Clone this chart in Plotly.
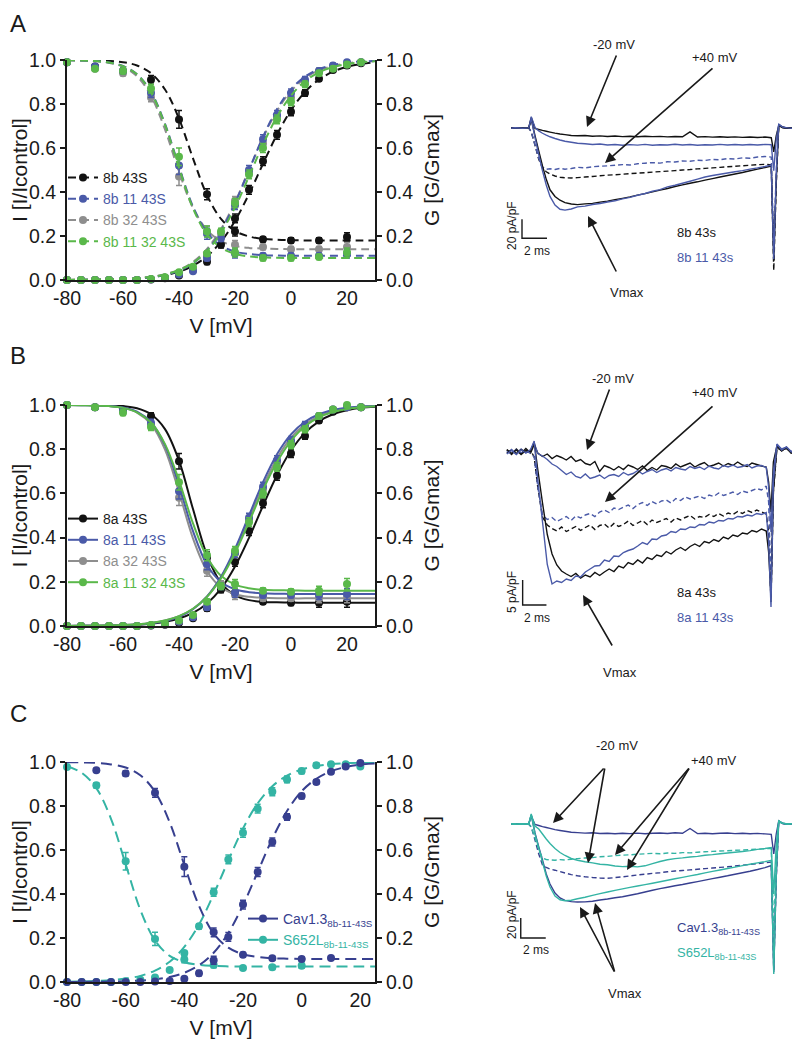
import plotly.graph_objects as go

# page body has an 8px margin: the figure is drawn 8px in, so coordinates below are page pixels
OFF = 8
FW, FH = 792, 1038
FONT = "Liberation Sans, Arial, sans-serif"
INK = "#1a1a1a"
BLACK = "#121212"
BLUE = "#4a5aa8"
GRAY = "#8e8e8e"
GREEN = "#5ab84a"
NAVY = "#373f8f"
TEAL = "#34b4a4"

# ---------------- steady-state curves: voltages ----------------
v_inact = [-80, -70, -60, -50, -40, -30, -20, -10, 0, 10, 20]
v_act = [-80, -75, -70, -65, -60, -55, -50, -45, -40, -35, -30, -25, -20, -15, -10, -5, 0, 5, 10, 15, 20, 25]
v_fit = [-80, -75, -70, -65, -60, -55, -50, -45, -40, -35, -30, -25, -20, -15, -10, -5, 0, 5, 10, 15, 20, 25, 30]

# ---------------- panel A (8b splice variants) ----------------
a_inact_blk = [0.99, 0.97, 0.95, 0.91, 0.73, 0.39, 0.22, 0.185, 0.18, 0.18, 0.195]
a_inact_blu = [0.99, 0.97, 0.95, 0.85, 0.52, 0.21, 0.12, 0.11, 0.11, 0.11, 0.12]
a_inact_gry = [0.99, 0.96, 0.94, 0.83, 0.47, 0.22, 0.16, 0.15, 0.14, 0.14, 0.15]
a_inact_grn = [0.99, 0.96, 0.95, 0.87, 0.56, 0.22, 0.125, 0.10, 0.10, 0.105, 0.125]
a_inact_err = [0.005, 0.01, 0.012, 0.02, 0.04, 0.025, 0.02, 0.012, 0.012, 0.012, 0.02]

a_act_blk = [0, 0, 0, 0, 0, 0, 0.002, 0.008, 0.02, 0.045, 0.083, 0.16, 0.28, 0.41, 0.54, 0.66, 0.765, 0.85, 0.915, 0.955, 0.975, 0.985]
a_act_blu = [0, 0, 0, 0, 0, 0, 0.003, 0.01, 0.025, 0.04, 0.10, 0.19, 0.34, 0.50, 0.64, 0.75, 0.85, 0.91, 0.95, 0.975, 0.99, 0.99]
a_act_gry = [0, 0, 0, 0, 0, 0, 0.003, 0.01, 0.03, 0.05, 0.11, 0.21, 0.36, 0.49, 0.62, 0.74, 0.83, 0.90, 0.95, 0.97, 0.98, 0.99]
a_act_grn = [0, 0, 0, 0, 0, 0, 0.005, 0.012, 0.035, 0.06, 0.12, 0.22, 0.35, 0.48, 0.60, 0.73, 0.81, 0.89, 0.94, 0.96, 0.98, 0.99]
act_err = [0, 0, 0, 0, 0, 0, 0.002, 0.003, 0.005, 0.008, 0.012, 0.015, 0.02, 0.02, 0.02, 0.02, 0.018, 0.015, 0.012, 0.01, 0.01, 0.008]

a_fit_inact_blk = [1.0, 0.999, 0.998, 0.996, 0.990, 0.975, 0.940, 0.866, 0.733, 0.553, 0.386, 0.278, 0.223, 0.198, 0.187, 0.183, 0.181, 0.180, 0.180, 0.180, 0.180, 0.180, 0.180]
a_fit_inact_blu = [0.999, 0.998, 0.995, 0.989, 0.973, 0.935, 0.855, 0.710, 0.515, 0.334, 0.216, 0.156, 0.129, 0.118, 0.113, 0.111, 0.110, 0.110, 0.110, 0.110, 0.110, 0.110, 0.110]
a_fit_inact_gry = [0.999, 0.998, 0.995, 0.987, 0.969, 0.926, 0.837, 0.684, 0.492, 0.328, 0.227, 0.177, 0.155, 0.146, 0.143, 0.141, 0.140, 0.140, 0.140, 0.140, 0.140, 0.140, 0.140]
a_fit_inact_grn = [0.999, 0.998, 0.995, 0.989, 0.972, 0.935, 0.852, 0.706, 0.510, 0.326, 0.207, 0.147, 0.119, 0.107, 0.103, 0.101, 0.100, 0.100, 0.100, 0.100, 0.100, 0.100, 0.100]
a_fit_act_blk = [0.0005, 0.0008, 0.0014, 0.0025, 0.0043, 0.0075, 0.013, 0.022, 0.038, 0.065, 0.108, 0.174, 0.269, 0.391, 0.528, 0.661, 0.772, 0.855, 0.911, 0.947, 0.969, 0.982, 0.990]
a_fit_act_blu = [0.0003, 0.0006, 0.001, 0.0019, 0.0036, 0.0067, 0.0124, 0.023, 0.042, 0.076, 0.133, 0.223, 0.349, 0.5, 0.651, 0.777, 0.867, 0.924, 0.958, 0.977, 0.988, 0.993, 0.996]
a_fit_act_gry = [0.0004, 0.0007, 0.0013, 0.0024, 0.0044, 0.008, 0.0145, 0.026, 0.047, 0.082, 0.141, 0.231, 0.354, 0.5, 0.646, 0.769, 0.859, 0.917, 0.953, 0.973, 0.985, 0.992, 0.995]
a_fit_act_grn = [0.0004, 0.0008, 0.0014, 0.0025, 0.0045, 0.008, 0.014, 0.025, 0.045, 0.078, 0.132, 0.215, 0.330, 0.471, 0.616, 0.742, 0.838, 0.904, 0.944, 0.968, 0.982, 0.990, 0.994]

# ---------------- panel B (8a splice variants) ----------------
b_inact_blk = [1.0, 0.99, 0.98, 0.95, 0.745, 0.31, 0.15, 0.11, 0.105, 0.105, 0.11]
b_inact_blu = [1.0, 0.99, 0.975, 0.92, 0.61, 0.28, 0.15, 0.14, 0.14, 0.14, 0.145]
b_inact_gry = [1.0, 0.99, 0.97, 0.91, 0.58, 0.25, 0.14, 0.125, 0.125, 0.125, 0.13]
b_inact_grn = [1.0, 0.99, 0.965, 0.90, 0.65, 0.32, 0.19, 0.16, 0.155, 0.16, 0.19]
b_inact_err = [0.005, 0.01, 0.012, 0.015, 0.035, 0.025, 0.02, 0.012, 0.012, 0.02, 0.025]

b_act_blk = [0, 0, 0, 0, 0, 0, 0.002, 0.006, 0.015, 0.035, 0.08, 0.165, 0.29, 0.43, 0.555, 0.68, 0.78, 0.86, 0.93, 0.97, 0.99, 0.99]
b_act_blu = [0, 0, 0, 0, 0, 0, 0.003, 0.008, 0.02, 0.04, 0.085, 0.18, 0.33, 0.49, 0.63, 0.75, 0.84, 0.91, 0.95, 0.98, 0.99, 0.99]
b_act_gry = [0, 0, 0, 0, 0, 0, 0.003, 0.008, 0.02, 0.045, 0.09, 0.19, 0.33, 0.48, 0.62, 0.74, 0.83, 0.90, 0.95, 0.98, 0.99, 0.99]
b_act_grn = [0, 0, 0, 0, 0, 0, 0.005, 0.01, 0.025, 0.05, 0.11, 0.18, 0.34, 0.47, 0.60, 0.72, 0.82, 0.89, 0.95, 0.98, 1.0, 0.99]

b_fit_inact_blk = [1.0, 1.0, 0.999, 0.998, 0.995, 0.985, 0.958, 0.891, 0.748, 0.529, 0.321, 0.195, 0.139, 0.117, 0.109, 0.107, 0.106, 0.105, 0.105, 0.105, 0.105, 0.105, 0.105]
b_fit_inact_blu = [1.0, 0.999, 0.998, 0.996, 0.988, 0.970, 0.922, 0.817, 0.636, 0.429, 0.277, 0.199, 0.166, 0.153, 0.148, 0.146, 0.145, 0.145, 0.145, 0.145, 0.145, 0.145, 0.145]
b_fit_inact_gry = [1.0, 0.999, 0.998, 0.995, 0.987, 0.966, 0.913, 0.798, 0.606, 0.396, 0.249, 0.175, 0.144, 0.132, 0.128, 0.126, 0.125, 0.125, 0.125, 0.125, 0.125, 0.125, 0.125]
b_fit_inact_grn = [1.0, 0.999, 0.998, 0.995, 0.987, 0.967, 0.921, 0.823, 0.658, 0.464, 0.312, 0.227, 0.187, 0.171, 0.164, 0.162, 0.161, 0.160, 0.160, 0.160, 0.160, 0.160, 0.160]
b_fit_act_blk = [0.0003, 0.0006, 0.001, 0.0019, 0.0033, 0.006, 0.0107, 0.019, 0.034, 0.059, 0.102, 0.169, 0.269, 0.399, 0.544, 0.682, 0.794, 0.874, 0.926, 0.958, 0.976, 0.987, 0.992]
b_fit_act_blu = [0.0003, 0.0006, 0.001, 0.0019, 0.0036, 0.0067, 0.0124, 0.023, 0.042, 0.076, 0.133, 0.223, 0.349, 0.5, 0.651, 0.777, 0.867, 0.924, 0.958, 0.977, 0.988, 0.993, 0.996]
b_fit_act_gry = [0.0004, 0.0007, 0.0012, 0.0023, 0.0042, 0.0075, 0.0137, 0.025, 0.044, 0.078, 0.134, 0.220, 0.340, 0.485, 0.632, 0.758, 0.852, 0.913, 0.950, 0.972, 0.985, 0.992, 0.995]
b_fit_act_grn = [0.0004, 0.0008, 0.0014, 0.0025, 0.0045, 0.008, 0.014, 0.025, 0.045, 0.078, 0.132, 0.215, 0.330, 0.471, 0.616, 0.742, 0.838, 0.904, 0.944, 0.968, 0.982, 0.990, 0.994]

# ---------------- panel C (Cav1.3 vs S652L) ----------------
v_c_cav_inact = [-70, -60, -50, -40, -30, -20, -10, 0, 10]
c_inact_cav = [0.962, 0.948, 0.86, 0.524, 0.226, 0.124, 0.108, 0.105, 0.109]
c_inact_cav_err = [0.008, 0.012, 0.02, 0.045, 0.02, 0.01, 0.008, 0.008, 0.008]
v_c_s652_inact = [-80, -70, -60, -50, -40, -30, -20, -10, 0]
c_inact_s652 = [0.977, 0.894, 0.549, 0.196, 0.102, 0.077, 0.064, 0.067, 0.074]
c_inact_s652_err = [0.01, 0.012, 0.04, 0.03, 0.015, 0.012, 0.01, 0.01, 0.012]
v_c_act = [-80, -75, -70, -65, -60, -55, -50, -45, -40, -35, -30, -25, -20, -15, -10, -5, 0, 5, 10, 15, 20]
c_act_cav = [0, 0, 0, 0, 0, 0, 0.002, 0.005, 0.015, 0.04, 0.099, 0.205, 0.352, 0.50, 0.636, 0.75, 0.845, 0.909, 0.956, 0.98, 0.995]
c_act_s652 = [0, 0, 0, 0, 0.003, 0.01, 0.02, 0.055, 0.132, 0.253, 0.408, 0.557, 0.678, 0.788, 0.865, 0.921, 0.959, 0.985, 0.99, 0.99, 0.98]
c_act_err = [0, 0, 0, 0, 0, 0.002, 0.003, 0.005, 0.008, 0.012, 0.018, 0.02, 0.02, 0.02, 0.018, 0.015, 0.012, 0.01, 0.008, 0.008, 0.008]
v_fit_c = [-80, -75, -70, -65, -60, -55, -50, -45, -40, -35, -30, -25, -20, -15, -10, -5, 0, 5, 10, 15, 20, 25]
c_fit_inact_cav = [0.999, 0.998, 0.996, 0.989, 0.975, 0.940, 0.865, 0.726, 0.532, 0.346, 0.220, 0.156, 0.126, 0.114, 0.108, 0.106, 0.105, 0.105, 0.105, 0.105, 0.105, 0.105]
c_fit_inact_s652 = [0.981, 0.951, 0.881, 0.742, 0.535, 0.328, 0.189, 0.119, 0.090, 0.078, 0.073, 0.071, 0.070, 0.070, 0.070, 0.070, 0.070, 0.070, 0.070, 0.070, 0.070, 0.070]
c_fit_act_cav = [0.0003, 0.0006, 0.001, 0.0019, 0.0036, 0.0067, 0.0124, 0.023, 0.042, 0.076, 0.133, 0.223, 0.349, 0.5, 0.651, 0.777, 0.867, 0.924, 0.958, 0.977, 0.988, 0.993]
c_fit_act_s652 = [0.0013, 0.0024, 0.0045, 0.0083, 0.0154, 0.028, 0.052, 0.092, 0.160, 0.261, 0.399, 0.552, 0.698, 0.812, 0.890, 0.938, 0.966, 0.981, 0.990, 0.995, 0.997, 0.998]

# ---------------- current traces (t in ms, I in pA/pF) ----------------
t_a = [-1.5, -1.2, -0.6, -0.1, 0.1, 0.4, 0.7, 1.0,
       1.3, 1.6, 2.0, 2.4, 2.8, 3.3, 3.8, 4.4,
       5.0, 5.6, 6.2, 6.8, 7.4, 8.0, 8.6, 9.2,
       9.8, 10.4, 11.0, 11.6, 12.2, 12.8, 13.4, 14.0,
       14.6, 15.2, 15.8, 16.4, 17.0, 17.6, 18.2, 18.8,
       19.3, 19.5, 19.7, 19.9, 20.2, 20.6, 21.0, 21.4]
i_a_blk_m20 = [-0.3, 0.4, -0.2, 0.3, 11.0, -0.5, -1.5, -2.5,
               -3.4, -4.3, -5.4, -6.3, -7.0, -7.9, -8.2, -7.8,
               -8.6, -8.3, -8.9, -8.4, -9.0, -8.7, -9.2, -8.6,
               -9.1, -8.8, -9.3, -8.9, -9.2, -4.0, -9.4, -9.0,
               -9.6, -9.2, -9.7, -9.3, -9.8, -9.4, -9.9, -9.5,
               -10.2, -25.0, -8.0, 2.5, 0.5, -0.3, 0.3, -0.1]
i_a_blu_m20 = [0.2, -0.3, 0.4, -0.2, 12.0, 0.5, -3.0, -5.5,
               -7.5, -9.2, -11.0, -12.6, -13.9, -15.0, -16.0, -16.6,
               -17.4, -16.8, -17.9, -17.3, -18.2, -17.5, -18.0, -17.2,
               -18.1, -17.6, -17.9, -17.1, -17.8, -17.4, -18.2, -17.6,
               -17.9, -17.2, -17.8, -17.3, -17.9, -17.4, -17.8, -17.2,
               -17.6, -45.0, -12.0, 4.0, 1.2, 0.2, -0.2, 0.3]
i_a_blu_p40 = [0.0, 0.2, -0.2, 0.1, -4.0, -18.0, -32.0, -41.0,
               -43.5, -42.8, -43.6, -42.5, -43.3, -42.6, -41.4, -42.0,
               -40.8, -40.2, -39.8, -39.2, -38.5, -38.9, -37.6, -37.0,
               -36.4, -36.9, -35.5, -35.8, -34.6, -35.0, -33.9, -34.2,
               -33.0, -33.4, -32.2, -32.6, -31.4, -31.8, -30.5, -30.0,
               -30.6, -125.0, -45.0, 2.0, 0.8, 0.0, 0.2, 0.0]
i_a_blk_p40 = [0.1, -0.2, 0.2, 0.0, -4.0, -18.0, -33.0, -42.0,
               -46.0, -48.5, -50.5, -51.8, -52.4, -52.6, -52.2, -51.6,
               -51.0, -50.3, -49.6, -49.2, -48.6, -48.0, -47.5, -47.1,
               -46.4, -45.9, -45.4, -44.8, -44.1, -43.7, -43.0, -42.5,
               -41.9, -41.4, -40.8, -40.3, -39.7, -39.2, -38.6, -38.2,
               -38.8, -150.0, -60.0, 1.0, 0.6, 0.0, 0.1, 0.0]
i_a_blk_vmax = [0.3, -0.3, 0.2, -0.1, 9.0, -8.0, -24.0, -40.0,
                -54.0, -65.0, -72.0, -76.0, -78.5, -80.0, -80.6, -79.8,
                -79.3, -78.0, -76.9, -75.4, -74.0, -72.5, -70.6, -69.0,
                -67.2, -65.4, -63.6, -61.5, -59.8, -58.1, -56.6, -54.8,
                -53.2, -51.5, -50.0, -48.4, -46.8, -45.0, -43.2, -41.5,
                -40.0, -140.0, -55.0, 3.0, 0.8, -0.2, 0.3, 0.0]
i_a_blu_vmax = [-0.2, 0.3, -0.3, 0.2, 10.0, -10.0, -28.0, -45.0,
                -60.0, -72.0, -81.0, -85.5, -86.4, -85.2, -83.0, -82.2,
                -80.5, -79.4, -77.8, -76.6, -74.5, -73.0, -70.8, -68.9,
                -66.5, -64.8, -62.0, -60.2, -58.1, -56.0, -53.8, -51.6,
                -50.0, -48.6, -47.3, -46.0, -44.8, -43.3, -42.0, -40.5,
                -39.0, -138.0, -48.0, 4.0, 1.0, 0.2, -0.2, 0.3]

t_b = [-2.2, -1.8, -1.4, -1.0, -0.6, -0.2, 0.1, 0.4,
       0.8, 1.2, 1.6, 2.0, 2.4, 2.8, 3.2, 3.6,
       4.0, 4.4, 4.8, 5.2, 5.6, 6.0, 6.4, 6.8,
       7.2, 7.6, 8.0, 8.4, 8.8, 9.2, 9.6, 10.0,
       10.4, 10.8, 11.2, 11.6, 12.0, 12.4, 12.8, 13.2,
       13.6, 14.0, 14.4, 14.8, 15.2, 15.6, 16.0, 16.4,
       16.8, 17.2, 17.6, 18.0, 18.4, 18.8, 19.2, 19.6,
       19.8, 20.0, 20.2, 20.5, 20.9, 21.3, 21.7, 22.1]
i_b_blk_m20 = [0.4, -0.5, 0.6, -0.3, 0.7, -0.2, 1.5, -0.2,
               -0.9, -0.4, -1.3, -0.7, -1.1, -1.6, -0.9, -1.9,
               -1.5, -2.3, -2.6, -1.9, -3.9, -2.7, -3.1, -3.6,
               -2.9, -3.5, -2.6, -3.0, -3.5, -2.8, -3.7, -3.1,
               -3.6, -2.7, -2.9, -3.3, -2.4, -3.0, -2.6, -2.2,
               -3.0, -2.5, -2.1, -2.9, -2.6, -2.2, -2.8, -2.3,
               -2.7, -2.0, -2.6, -2.9, -2.2, -2.5, -2.8, -3.0,
               -6.0, -12.0, -2.0, 1.2, 0.3, 0.8, -0.2, 0.5]
i_b_blu_m20 = [-0.3, 0.5, -0.4, 0.6, -0.2, 0.4, 1.8, -0.3,
               -0.8, -1.5, -2.4, -2.9, -3.7, -4.5, -4.0, -4.9,
               -5.2, -4.4, -5.3, -5.0, -4.6, -5.3, -4.7, -4.5,
               -4.9, -4.1, -4.6, -4.3, -3.7, -4.4, -3.9, -3.5,
               -4.1, -3.6, -3.3, -3.8, -3.1, -3.4, -3.6, -2.9,
               -3.3, -3.0, -3.5, -2.8, -3.2, -3.4, -2.7, -3.0,
               -2.6, -3.1, -2.9, -2.5, -3.2, -2.8, -2.7, -3.1,
               -7.0, -16.0, -4.0, 1.5, 0.6, 1.0, 0.1, 0.6]
i_b_blu_p40 = [0.2, -0.4, 0.5, -0.2, 0.3, -0.3, -1.0, -7.0,
               -12.6, -13.5, -13.1, -13.9, -13.4, -12.9, -13.7, -12.8,
               -13.2, -12.6, -12.3, -12.9, -12.0, -11.6, -12.1, -11.2,
               -11.5, -11.0, -10.6, -11.3, -10.5, -10.1, -10.7, -9.9,
               -10.4, -9.8, -9.6, -10.2, -9.3, -9.7, -9.0, -9.4,
               -9.1, -8.8, -9.3, -8.6, -8.9, -8.2, -8.7, -8.4,
               -8.0, -8.5, -7.8, -8.1, -7.7, -7.3, -7.6, -6.8,
               -10.0, -26.0, -5.0, 1.0, 0.4, 0.8, 0.0, 0.4]
i_b_blk_p40 = [-0.2, 0.4, -0.3, 0.5, -0.1, 0.3, -1.0, -7.0,
               -13.0, -14.6, -15.3, -15.8, -15.0, -15.9, -15.4, -14.9,
               -15.7, -15.1, -14.6, -15.5, -14.7, -14.4, -15.2, -14.3,
               -14.9, -14.5, -13.8, -14.7, -14.2, -13.7, -14.5, -13.6,
               -14.1, -13.7, -13.3, -14.0, -13.2, -13.6, -13.1, -12.7,
               -13.4, -12.9, -13.1, -12.5, -12.9, -12.3, -12.8, -12.2,
               -12.5, -11.9, -12.3, -11.7, -12.1, -11.6, -12.0, -12.4,
               -16.0, -30.0, -8.0, 0.8, 0.3, 0.7, -0.1, 0.3]
i_b_blk_vmax = [0.5, -0.3, 0.4, -0.5, 0.3, 0.1, 2.0, -3.5,
                -10.2, -16.5, -20.4, -22.6, -23.8, -24.4, -24.9, -24.3,
                -25.2, -24.6, -25.0, -24.1, -24.7, -24.0, -23.4, -23.9,
                -22.8, -23.2, -22.1, -22.5, -21.6, -22.2, -21.1, -21.5,
                -20.6, -20.9, -19.9, -20.4, -19.6, -19.1, -19.7, -18.9,
                -18.4, -18.9, -17.9, -18.2, -17.5, -17.9, -17.0, -17.4,
                -16.6, -16.9, -16.2, -16.4, -15.7, -16.0, -15.4, -15.8,
                -20.0, -29.0, -8.0, 1.2, 0.2, 0.9, -0.2, 0.4]
i_b_blu_vmax = [-0.4, 0.3, -0.5, 0.4, -0.2, 0.5, 2.2, -5.5,
                -14.0, -22.5, -26.4, -25.8, -26.1, -25.4, -25.7, -24.8,
                -25.0, -24.0, -23.4, -22.8, -22.7, -21.6, -21.9, -20.8,
                -20.9, -20.1, -19.7, -19.4, -18.8, -18.1, -18.5, -17.4,
                -17.5, -16.8, -16.6, -15.9, -16.1, -15.4, -15.5, -15.0,
                -15.1, -14.5, -14.6, -14.0, -14.2, -13.7, -13.8, -13.3,
                -13.4, -12.9, -13.0, -12.6, -12.8, -12.3, -12.5, -12.1,
                -18.0, -31.0, -6.0, 1.6, 0.4, 1.0, 0.0, 0.5]

t_c = [-1.5, -1.2, -0.6, -0.1, 0.1, 0.4, 0.7, 1.0,
       1.3, 1.6, 2.0, 2.4, 2.8, 3.3, 3.8, 4.4,
       5.0, 5.6, 6.2, 6.8, 7.4, 8.0, 8.6, 9.2,
       9.8, 10.4, 11.0, 11.6, 12.2, 12.8, 13.4, 14.0,
       14.6, 15.2, 15.8, 16.4, 17.0, 17.6, 18.2, 18.8,
       19.3, 19.5, 19.7, 19.9, 20.2, 20.6, 21.0, 21.4]
i_c_cav_m20 = [0.2, -0.3, 0.4, 0.0, 8.0, -0.5, -1.5, -2.6,
               -3.5, -4.4, -5.6, -6.5, -7.3, -8.2, -8.6, -9.1,
               -8.8, -9.5, -9.2, -9.8, -9.3, -9.6, -9.1, -9.7,
               -9.2, -9.0, -9.5, -8.8, -9.3, -4.5, -9.6, -9.2,
               -9.8, -9.3, -9.0, -9.6, -9.2, -9.8, -9.4, -9.9,
               -10.3, -30.0, -10.0, 3.0, 0.6, -0.2, 0.3, 0.0]
i_c_s652_m20 = [0.3, -0.2, 0.2, 0.0, 9.0, -2.0, -5.0, -10.0,
                -15.0, -19.5, -24.5, -28.5, -31.5, -34.5, -36.2, -37.8,
                -38.9, -40.2, -40.8, -42.0, -42.6, -42.2, -42.9, -41.8,
                -39.6, -37.5, -35.8, -34.6, -33.9, -33.0, -32.4, -31.2,
                -30.6, -29.8, -29.0, -28.3, -27.5, -26.6, -25.4, -24.5,
                -23.6, -70.0, -20.0, 3.0, 0.7, 0.0, 0.2, 0.0]
i_c_s652_p40 = [0.0, 0.2, -0.2, 0.0, -3.0, -14.0, -26.0, -34.0,
                -35.5, -35.8, -36.2, -35.6, -36.0, -35.2, -34.6, -34.0,
                -33.6, -32.8, -32.4, -31.6, -31.2, -30.8, -30.2, -29.8,
                -29.4, -29.8, -29.0, -29.4, -28.6, -28.9, -28.2, -27.8,
                -27.4, -27.0, -26.8, -26.3, -26.0, -25.6, -25.2, -24.8,
                -24.4, -110.0, -35.0, 2.0, 0.5, 0.0, 0.1, 0.0]
i_c_cav_p40 = [-0.1, 0.2, 0.0, -0.2, -3.0, -16.0, -30.0, -41.0,
               -43.5, -45.0, -46.2, -47.6, -49.0, -50.6, -51.8, -52.8,
               -53.5, -54.0, -54.3, -53.6, -52.8, -51.9, -51.0, -50.2,
               -49.4, -48.7, -47.8, -47.0, -46.5, -45.9, -45.3, -44.6,
               -44.0, -43.4, -42.8, -42.0, -41.2, -40.4, -39.6, -38.8,
               -38.0, -146.0, -55.0, 2.0, 0.5, 0.0, 0.1, 0.0]
i_c_s652_vmax = [0.2, -0.2, 0.3, 0.0, 10.0, -10.0, -24.0, -38.0,
                 -52.0, -63.0, -72.0, -75.8, -76.8, -76.2, -74.8, -73.2,
                 -71.4, -69.6, -68.0, -66.4, -64.9, -63.4, -62.0, -60.6,
                 -59.2, -57.8, -56.3, -54.8, -53.4, -51.9, -50.5, -48.9,
                 -47.4, -46.0, -44.5, -43.1, -41.6, -40.2, -38.9, -37.6,
                 -36.3, -150.0, -50.0, 3.0, 0.8, 0.0, 0.2, 0.0]
i_c_cav_vmax = [-0.2, 0.3, -0.2, 0.1, 9.0, -9.0, -23.0, -36.0,
                -50.0, -60.0, -69.0, -74.0, -76.4, -77.6, -78.0, -77.9,
                -77.2, -76.0, -75.0, -73.8, -72.8, -71.3, -69.8, -68.0,
                -66.2, -64.6, -63.2, -61.8, -60.5, -59.0, -57.6, -56.1,
                -54.6, -53.2, -51.8, -50.2, -48.7, -47.2, -45.5, -43.6,
                -41.5, -148.0, -52.0, 3.0, 0.7, -0.1, 0.2, 0.0]

# scale bars (2 ms horizontal; 20 / 5 / 20 pA/pF vertical)
sb_a_t = [-0.64, -0.64, 1.36]
sb_a_i = [-96, -116, -116]
sb_b_t = [-0.87, -0.87, 1.13]
sb_b_i = [-25.6, -30.6, -30.6]
sb_c_t = [-0.74, -0.74, 1.26]
sb_c_i = [-94, -114, -114]


def fx(x):
    return (x - OFF) / FW


def fy(y):
    return 1 - (y - OFF) / FH


fig = go.Figure()


def points(x, y, err, color, xa, ya):
    fig.add_trace(go.Scatter(x=x, y=y, mode="markers", xaxis=xa, yaxis=ya,
                             marker=dict(color=color, size=8),
                             error_y=dict(type="data", array=err, color=color, thickness=1.5, width=3),
                             cliponaxis=False, showlegend=False, hoverinfo="skip"))


def curve(x, y, color, dash, xa, ya):
    fig.add_trace(go.Scatter(x=x, y=y, mode="lines", xaxis=xa, yaxis=ya,
                             line=dict(color=color, width=2, dash=dash, shape="spline"),
                             showlegend=False, hoverinfo="skip"))


def key(name, color, dash, legend):
    fig.add_trace(go.Scatter(x=[None], y=[None], mode="lines+markers", name=name,
                             line=dict(color=color, width=2, dash=dash),
                             marker=dict(color=color, size=8),
                             legend=legend, legendgroup=name))


def trace(t, i, color, dash, xa, ya):
    fig.add_trace(go.Scatter(x=t, y=i, mode="lines", xaxis=xa, yaxis=ya,
                             line=dict(color=color, width=1.4, dash=dash, simplify=False),
                             cliponaxis=False, showlegend=False, hoverinfo="skip"))


def colored(text, color):
    return '<span style="color:%s">%s</span>' % (color, text)


# ---- panel A steady-state ----
DA = "8px,5px"
for fit_i, fit_g, d_i, d_g, col in [
    (a_fit_inact_blk, a_fit_act_blk, a_inact_blk, a_act_blk, BLACK),
    (a_fit_inact_gry, a_fit_act_gry, a_inact_gry, a_act_gry, GRAY),
    (a_fit_inact_blu, a_fit_act_blu, a_inact_blu, a_act_blu, BLUE),
    (a_fit_inact_grn, a_fit_act_grn, a_inact_grn, a_act_grn, GREEN),
]:
    curve(v_fit, fit_i, col, DA, "x", "y")
    curve(v_fit, fit_g, col, DA, "x", "y2")
    points(v_inact, d_i, a_inact_err, col, "x", "y")
    points(v_act, d_g, act_err, col, "x", "y2")

# ---- panel B steady-state ----
for fit_i, fit_g, d_i, d_g, col in [
    (b_fit_inact_blk, b_fit_act_blk, b_inact_blk, b_act_blk, BLACK),
    (b_fit_inact_gry, b_fit_act_gry, b_inact_gry, b_act_gry, GRAY),
    (b_fit_inact_blu, b_fit_act_blu, b_inact_blu, b_act_blu, BLUE),
    (b_fit_inact_grn, b_fit_act_grn, b_inact_grn, b_act_grn, GREEN),
]:
    curve(v_fit, fit_i, col, "solid", "x3", "y4")
    curve(v_fit, fit_g, col, "solid", "x3", "y5")
    points(v_inact, d_i, b_inact_err, col, "x3", "y4")
    points(v_act, d_g, act_err, col, "x3", "y5")

# ---- panel C steady-state ----
DC = "11px,6px"
curve(v_fit_c, c_fit_inact_s652, TEAL, DC, "x5", "y7")
curve(v_fit_c, c_fit_act_s652, TEAL, DC, "x5", "y8")
curve(v_fit_c, c_fit_inact_cav, NAVY, DC, "x5", "y7")
curve(v_fit_c, c_fit_act_cav, NAVY, DC, "x5", "y8")
points(v_c_s652_inact, c_inact_s652, c_inact_s652_err, TEAL, "x5", "y7")
points(v_c_act, c_act_s652, c_act_err, TEAL, "x5", "y8")
points(v_c_cav_inact, c_inact_cav, c_inact_cav_err, NAVY, "x5", "y7")
points(v_c_act, c_act_cav, c_act_err, NAVY, "x5", "y8")

# ---- legends ----
key("8b 43S", BLACK, DA, "legend")
key(colored("8b 11 43S", BLUE), BLUE, DA, "legend")
key(colored("8b 32 43S", GRAY), GRAY, DA, "legend")
key(colored("8b 11 32 43S", GREEN), GREEN, DA, "legend")
key("8a 43S", BLACK, "solid", "legend2")
key(colored("8a 11 43S", BLUE), BLUE, "solid", "legend2")
key(colored("8a 32 43S", GRAY), GRAY, "solid", "legend2")
key(colored("8a 11 32 43S", GREEN), GREEN, "solid", "legend2")
key(colored("Cav1.3<sub>8b-11-43S</sub>", NAVY), NAVY, "solid", "legend3")
key(colored("S652L<sub>8b-11-43S</sub>", TEAL), TEAL, "solid", "legend3")

# ---- current traces ----
DT = "5px,3px"
trace(t_a, i_a_blk_m20, BLACK, "solid", "x2", "y3")
trace(t_a, i_a_blu_m20, BLUE, "solid", "x2", "y3")
trace(t_a, i_a_blk_p40, BLACK, DT, "x2", "y3")
trace(t_a, i_a_blu_p40, BLUE, DT, "x2", "y3")
trace(t_a, i_a_blk_vmax, BLACK, "solid", "x2", "y3")
trace(t_a, i_a_blu_vmax, BLUE, "solid", "x2", "y3")
trace(sb_a_t, sb_a_i, INK, "solid", "x2", "y3")

trace(t_b, i_b_blk_m20, BLACK, "solid", "x4", "y6")
trace(t_b, i_b_blu_m20, BLUE, "solid", "x4", "y6")
trace(t_b, i_b_blk_p40, BLACK, DT, "x4", "y6")
trace(t_b, i_b_blu_p40, BLUE, DT, "x4", "y6")
trace(t_b, i_b_blk_vmax, BLACK, "solid", "x4", "y6")
trace(t_b, i_b_blu_vmax, BLUE, "solid", "x4", "y6")
trace(sb_b_t, sb_b_i, INK, "solid", "x4", "y6")

trace(t_c, i_c_cav_m20, NAVY, "solid", "x6", "y9")
trace(t_c, i_c_cav_p40, NAVY, DT, "x6", "y9")
trace(t_c, i_c_cav_vmax, NAVY, "solid", "x6", "y9")
trace(t_c, i_c_s652_m20, TEAL, "solid", "x6", "y9")
trace(t_c, i_c_s652_p40, TEAL, DT, "x6", "y9")
trace(t_c, i_c_s652_vmax, TEAL, "solid", "x6", "y9")
trace(sb_c_t, sb_c_i, INK, "solid", "x6", "y9")


# ---- axes ----
def x_iv(domain, rng, anchor):
    return dict(domain=domain, range=rng, anchor=anchor, showline=True, linecolor=INK, linewidth=2,
                ticks="", tickvals=[-80, -60, -40, -20, 0, 20],
                ticktext=["-80", "-60", "-40", "-20", "0", "20"],
                tickfont=dict(size=19.5, color=INK), showgrid=False, zeroline=False, automargin=False,
                title=dict(text="V [mV]", font=dict(size=21, color=INK), standoff=10))


def y_iv(domain, anchor, side, title, overlay=None):
    d = dict(range=[0, 1], anchor=anchor, side=side, showline=True, linecolor=INK, linewidth=2,
             ticks="outside", ticklen=5, tickwidth=2, tickcolor=INK,
             tickvals=[0, 0.2, 0.4, 0.6, 0.8, 1.0],
             ticktext=["0.0", "0.2", "0.4", "0.6", "0.8", "1.0"],
             tickfont=dict(size=19.5, color=INK), showgrid=False, zeroline=False, automargin=False,
             title=dict(text=title, font=dict(size=21, color=INK),
                        standoff=12 if side == "right" else 6))
    if overlay:
        d["overlaying"] = overlay
    else:
        d["domain"] = domain
    return d


def hidden(domain, rng, anchor):
    return dict(domain=domain, range=rng, anchor=anchor, visible=False, fixedrange=True,
                automargin=False)


X_DOM = [fx(67), fx(375)]
T_DOM = [fx(505), fx(800)]


def legend_at(x, y, gap=3):
    return dict(x=fx(x), y=fy(y), xanchor="left", yanchor="top", bgcolor="rgba(0,0,0,0)",
                font=dict(size=14, color=INK, family=FONT), tracegroupgap=gap, itemwidth=30,
                traceorder="normal")


def label(x, y, text, size=13, color=INK, xanchor="center", angle=0, yanchor="middle"):
    return dict(x=fx(x), y=fy(y), xref="paper", yref="paper", text=text, showarrow=False,
                font=dict(size=size, color=color, family=FONT), xanchor=xanchor,
                yanchor=yanchor, textangle=angle)


def arrow(tail, head):
    return dict(x=fx(head[0]), y=fy(head[1]), xref="paper", yref="paper",
                ax=tail[0] - head[0], ay=tail[1] - head[1], text="", showarrow=True,
                arrowhead=2, arrowsize=1.3, arrowwidth=1.6, arrowcolor=INK)


annotations = [
    label(8, 8, "A", size=24, xanchor="left", yanchor="top"),
    label(8, 356, "B", size=24, xanchor="left"),
    label(8, 713, "C", size=24, xanchor="left"),
    # A traces
    label(614, 45, "-20 mV"), label(714, 58, "+40 mV"), label(627, 293, "Vmax"),
    arrow((617, 54), (587, 127)), arrow((714, 67), (605, 163)), arrow((617, 273), (588, 216)),
    label(512, 226, "20 pA/pF", size=12, angle=-90), label(537, 251, "2 ms", size=12),
    label(675, 233, "8b 43s", xanchor="left"), label(675, 258, "8b 11 43s", color=BLUE, xanchor="left"),
    # B traces
    label(613, 378, "-20 mV"), label(714, 393, "+40 mV"), label(620, 672, "Vmax"),
    arrow((610, 388), (587, 450)), arrow((714, 405), (605, 502)), arrow((613, 647), (583, 595)),
    label(512, 592, "5 pA/pF", size=12, angle=-90), label(537, 618, "2 ms", size=12),
    label(675, 592, "8a 43s", xanchor="left"), label(675, 617, "8a 11 43s", color=BLUE, xanchor="left"),
    # C traces
    label(617, 745, "-20 mV"), label(713, 760, "+40 mV"), label(625, 993, "Vmax"),
    arrow((605, 767), (553, 823)), arrow((605, 767), (588, 863)),
    arrow((690, 767), (615, 855)), arrow((690, 767), (627, 870)),
    arrow((615, 973), (580, 907)), arrow((615, 973), (595, 903)),
    label(512, 915, "20 pA/pF", size=12, angle=-90), label(536, 950, "2 ms", size=12),
    label(675, 928, "Cav1.3<sub>8b-11-43S</sub>", color=NAVY, xanchor="left"),
    label(675, 953, "S652L<sub>8b-11-43S</sub>", color=TEAL, xanchor="left"),
]

fig.update_layout(
    width=FW, height=FH, margin=dict(l=0, r=0, t=0, b=0, pad=0, autoexpand=False),
    paper_bgcolor="white", plot_bgcolor="white",
    font=dict(family=FONT, color=INK), showlegend=True,
    xaxis=x_iv(X_DOM, [-80, 30], "y"),
    yaxis=y_iv([fy(280), fy(60)], "x", "left", "I [I/Icontrol]"),
    yaxis2=y_iv(None, "x", "right", "G [G/Gmax]", overlay="y"),
    xaxis2=hidden(T_DOM, [-2, 21.6], "y3"),
    yaxis3=hidden([fy(300), fy(60)], [-181, 71.6], "x2"),
    xaxis3=x_iv(X_DOM, [-80, 30], "y4"),
    yaxis4=y_iv([fy(626), fy(405)], "x3", "left", "I [I/Icontrol]"),
    yaxis5=y_iv(None, "x3", "right", "G [G/Gmax]", overlay="y4"),
    xaxis4=hidden(T_DOM, [-2.353, 22.437], "y6"),
    yaxis6=hidden([fy(700), fy(390)], [-49.6, 12.4], "x4"),
    xaxis5=x_iv(X_DOM, [-80, 25], "y7"),
    yaxis7=y_iv([fy(982), fy(762)], "x5", "left", "I [I/Icontrol]"),
    yaxis8=y_iv(None, "x5", "right", "G [G/Gmax]", overlay="y7"),
    xaxis6=hidden(T_DOM, [-2, 21.6], "y9"),
    yaxis9=hidden([fy(1000), fy(740)], [-176, 84], "x6"),
    legend=legend_at(63, 162),
    legend2=legend_at(63, 503, gap=5),
    legend3=legend_at(243, 903),
    annotations=annotations,
)

fig.write_html("out.html")
